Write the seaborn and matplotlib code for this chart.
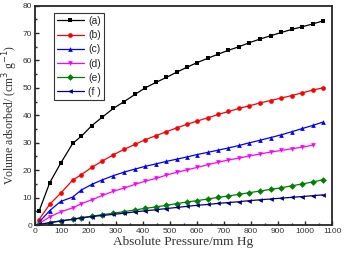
import matplotlib
matplotlib.use("Agg")
import matplotlib.pyplot as plt
import seaborn as sns
import pandas as pd
from matplotlib.ticker import MultipleLocator

# pressure points (mm Hg)
pressure = [15, 55, 95, 140, 172, 210, 250, 290, 330, 370, 408, 448, 486, 524,
            562, 600, 640, 678, 716, 755, 794, 833, 872, 912, 950, 990, 1028, 1065]

vol_a = [5.0, 15.5, 22.5, 29.8, 32.4, 36.2, 39.4, 42.5, 45.0, 47.6, 50.0, 52.0, 53.8, 55.7,
         57.5, 59.2, 60.8, 62.3, 63.7, 65.0, 66.5, 67.8, 69.0, 70.2, 71.3, 72.3, 73.3, 74.4]
vol_b = [2.0, 7.6, 11.6, 16.4, 18.4, 21.0, 23.4, 25.6, 27.6, 29.4, 31.1, 32.6, 34.0, 35.4,
         36.7, 37.9, 39.1, 40.3, 41.4, 42.5, 43.5, 44.5, 45.4, 46.3, 47.2, 48.2, 49.2, 50.0]
vol_c = [1.0, 5.3, 8.6, 10.2, 12.8, 14.8, 16.5, 18.0, 19.3, 20.4, 21.4, 22.3, 23.2, 24.0,
         24.8, 25.7, 26.5, 27.3, 28.1, 29.0, 30.0, 30.9, 31.9, 32.9, 34.0, 35.2, 36.3, 37.5]
vol_d = [0.5, 3.0, 4.8, 6.3, 7.8, 9.2, 10.8, 12.3, 13.5, 14.8, 16.0, 17.0, 18.2, 19.2,
         20.1, 21.0, 22.0, 22.9, 23.7, 24.4, 25.2, 25.9, 26.6, 27.2, 27.8, 28.4, 29.1]
vol_e = [0.2, 0.8, 1.5, 2.1, 2.7, 3.2, 3.8, 4.3, 4.9, 5.5, 6.1, 6.6, 7.2, 7.8,
         8.4, 8.9, 9.5, 10.1, 10.6, 11.2, 11.8, 12.4, 13.0, 13.6, 14.3, 15.0, 15.7, 16.5]
vol_f = [0.2, 0.9, 1.5, 2.1, 2.6, 3.1, 3.5, 3.9, 4.3, 4.8, 5.2, 5.6, 6.0, 6.4,
         6.8, 7.2, 7.5, 7.9, 8.2, 8.5, 8.9, 9.2, 9.5, 9.8, 10.1, 10.4, 10.7, 11.0]

labels = ["(a)", "(b)", "(c)", "(d)", "(e)", "(f )"]
series = [vol_a, vol_b, vol_c, vol_d, vol_e, vol_f]
colors = ["#000000", "#ff0000", "#0000ff", "#ff00ff", "#008000", "#000080"]
markers = ["s", "o", "^", "v", "D", "<"]

rows = []
for lab, vals in zip(labels, series):
    for p, v in zip(pressure, vals):
        rows.append({"pressure": p, "volume": v, "sample": lab})
df = pd.DataFrame(rows)

sns.set_style("ticks")
plt.rcParams["font.family"] = ["Liberation Sans", "DejaVu Sans"]

fig = plt.figure(figsize=(3.46, 2.54), dpi=100, facecolor="white")
ax = fig.add_axes([0.101, 0.114, 0.859, 0.864])

sns.lineplot(data=df, x="pressure", y="volume", hue="sample", style="sample",
             palette=colors, markers=markers, dashes=False, markersize=3.4,
             markeredgewidth=0, linewidth=0.9, ax=ax)

ax.set_xlim(0, 1100)
ax.set_ylim(0, 80)
ax.xaxis.set_major_locator(MultipleLocator(100))
ax.xaxis.set_minor_locator(MultipleLocator(50))
ax.yaxis.set_major_locator(MultipleLocator(10))
ax.yaxis.set_minor_locator(MultipleLocator(5))
ax.tick_params(which="both", direction="in", labelsize=6, pad=2, width=1,
               labelcolor="#333333")
ax.tick_params(which="major", length=3)
ax.tick_params(which="minor", length=1.5)
for s in ax.spines.values():
    s.set_linewidth(1.3)
    s.set_visible(True)

ax.set_xlabel("Absolute Pressure/mm Hg", family="Liberation Serif", fontsize=9.5,
              labelpad=1, color="#333333")
ax.set_ylabel("Volume adsorbed/ (cm$^3$ g$^{-1}$)", family="Liberation Serif",
              fontsize=8.5, labelpad=2, color="#333333")

leg = ax.legend(loc="upper left", bbox_to_anchor=(0.045, 0.99), fontsize=7.5,
                frameon=True, fancybox=False, edgecolor="black", handlelength=2.6,
                labelspacing=0.4, borderpad=0.3, handletextpad=0.4)
leg.get_frame().set_linewidth(0.8)

fig.savefig("out.png", dpi=100, facecolor="white")
